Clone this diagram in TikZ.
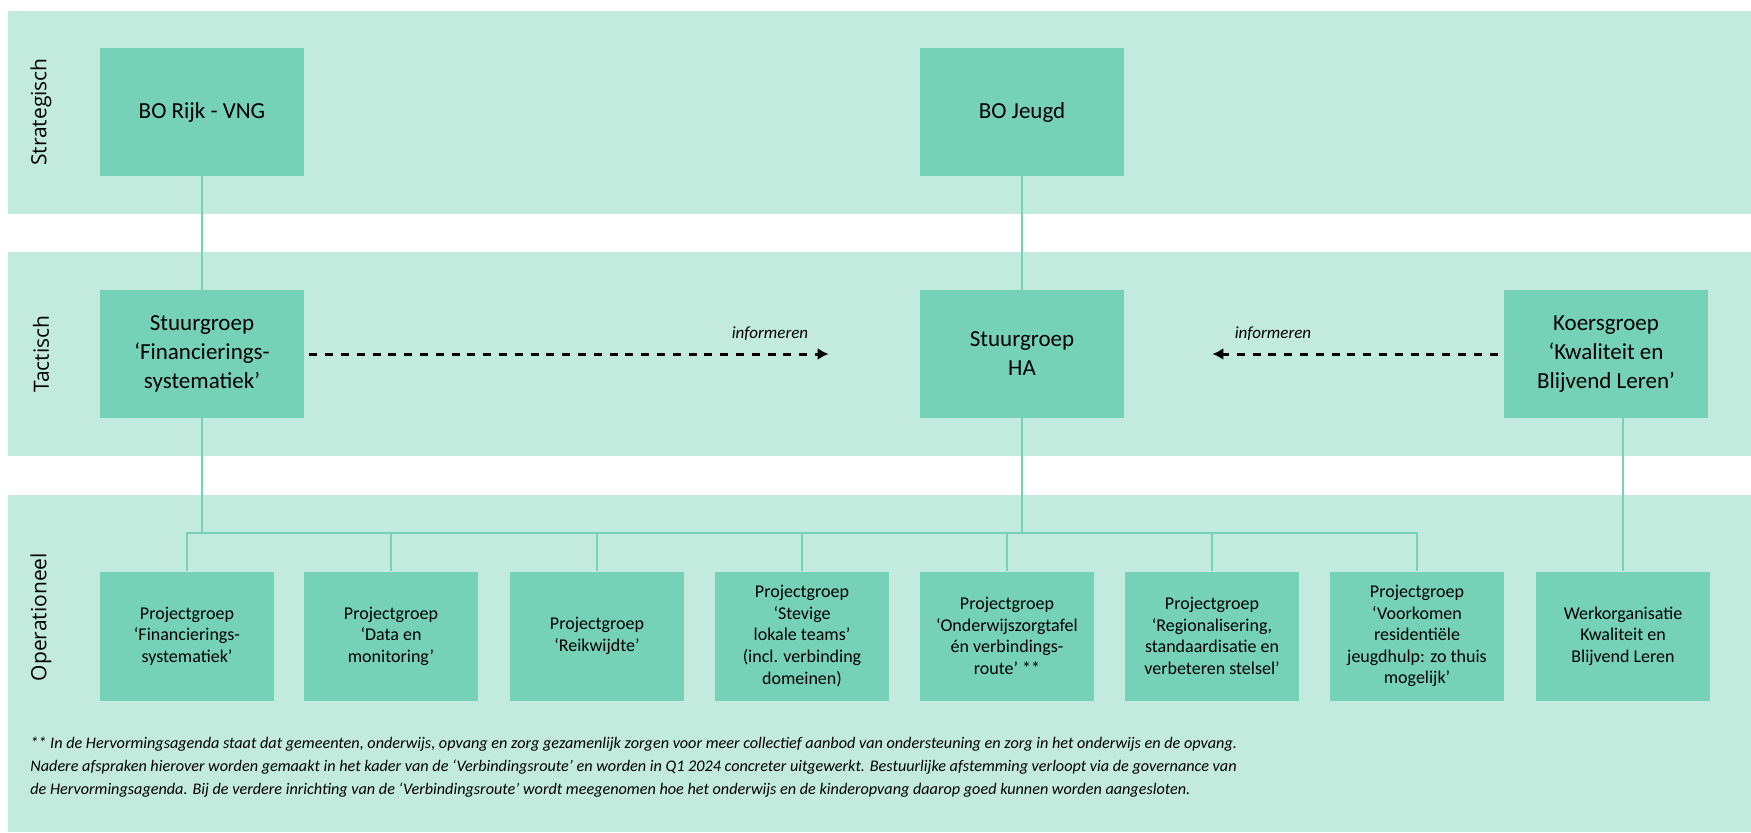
\documentclass[tikz,border=0pt]{standalone}
\usepackage{fontspec}
\setmainfont{Carlito}
\newfontfamily\sidefont{Open Sans}
\usetikzlibrary{arrows.meta}
\definecolor{bandgreen}{RGB}{194,235,222}
\definecolor{boxgreen}{RGB}{118,210,182}

\begin{document}
\begin{tikzpicture}[x=0.5pt,y=-0.5pt,
		band/.style={fill=bandgreen,draw=none},
		topbox/.style={fill=boxgreen,minimum width=102pt,minimum height=64pt,align=center,inner sep=0pt,font=\fontsize{11.5}{14.5}\selectfont},
		projbox/.style={fill=boxgreen,minimum width=87pt,minimum height=64.5pt,align=center,inner sep=0pt,font=\fontsize{9}{10.8}\selectfont},
		level/.style={rotate=90,font=\sidefont\fontsize{10.5}{12}\selectfont},
		link/.style={draw=boxgreen,line width=1.4pt},
		inform/.style={draw=black,line width=1.5pt,dash pattern=on 4pt off 3.9pt,-{Latex[length=5.5pt,width=6pt]}},
		lbl/.style={font=\itshape\fontsize{8.5}{10}\selectfont},
		note/.style={align=left,inner sep=0pt,font=\itshape\fontsize{8.1}{11.5}\selectfont}]
	\useasboundingbox (0,0) rectangle (1751,832);
	% lagen
	\foreach \ya/\yb in {11/214, 252/456, 495/832}{
		\fill[band] (8,\ya) rectangle (1751,\yb);
	}
	\node[level] (strat) at (41,112) {Strategisch};
	\node[level] (tact) at (41,354) {Tactisch};
	\node[level] (oper) at (41,617) {Operationeel};
	% strategisch en tactisch
	\node[topbox] (rijk) at (202,112) {BO Rijk - VNG};
	\node[topbox] (jeugd) at (1022,112) {BO Jeugd};
	\node[topbox] (fin) at (202,354) {Stuurgroep\\‘Financierings-\\systematiek’};
	\node[topbox] (ha) at (1022,354) {Stuurgroep\\HA};
	\node[topbox] (koers) at (1606,354) {Koersgroep\\‘Kwaliteit en\\Blijvend Leren’};
	% operationeel
	\foreach \n/\x/\t in {1/187/Projectgroep\\‘Financierings-\\systematiek’,
			2/391/Projectgroep\\‘Data en\\monitoring’,
			3/597/Projectgroep\\‘Reikwijdte’,
			4/802/Projectgroep\\‘Stevige\\lokale teams’\\(incl. verbinding\\domeinen),
			5/1007/Projectgroep\\‘Onderwijszorgtafel\\én verbindings-\\route’ **,
			6/1212/{Projectgroep\\‘Regionalisering,\\standaardisatie en\\verbeteren stelsel’},
			7/1417/Projectgroep\\‘Voorkomen\\residentiële\\jeugdhulp: zo thuis\\mogelijk’,
			8/1623/Werkorganisatie\\Kwaliteit en\\Blijvend Leren}{
		\node[projbox] (p\n) at (\x,636) {\t};
	}
	% lijnen
	\coordinate (bar) at (0,533);
	\draw[link] (rijk) -- (fin);
	\draw[link] (jeugd) -- (ha);
	\draw[link] (fin.south) -- (fin.south |- bar);
	\draw[link] (ha.south) -- (ha.south |- bar);
	\draw[link] (p1.north) |- (p7.north |- bar) -- (p7.north);
	\foreach \n in {2,...,6}
		\draw[link] (p\n.north) -- (p\n.north |- bar);
	\draw[link] (koers.south -| p8.north) -- (p8.north);
	% informeren
	\draw[inform,shorten <=2.5pt,shorten >=45.5pt] (fin) -- (ha);
	\draw[inform,shorten <=3pt,shorten >=44pt] (koers) -- (ha);
	\node[lbl] (inf1) at (770,334) {informeren};
	\node[lbl] (inf2) at (1273,334) {informeren};
	% voetnoot
	\node[note,anchor=north west] (voetnoot) at (30,737) {** In de Hervormingsagenda staat dat gemeenten, onderwijs, opvang en zorg gezamenlijk zorgen voor meer collectief aanbod van ondersteuning en zorg in het onderwijs en de opvang.\\
		Nadere afspraken hierover worden gemaakt in het kader van de ‘Verbindingsroute’ en worden in Q1 2024 concreter uitgewerkt. Bestuurlijke afstemming verloopt via de governance van\\
		de Hervormingsagenda. Bij de verdere inrichting van de ‘Verbindingsroute’ wordt meegenomen hoe het onderwijs en de kinderopvang daarop goed kunnen worden aangesloten.};
\end{tikzpicture}
\end{document}
